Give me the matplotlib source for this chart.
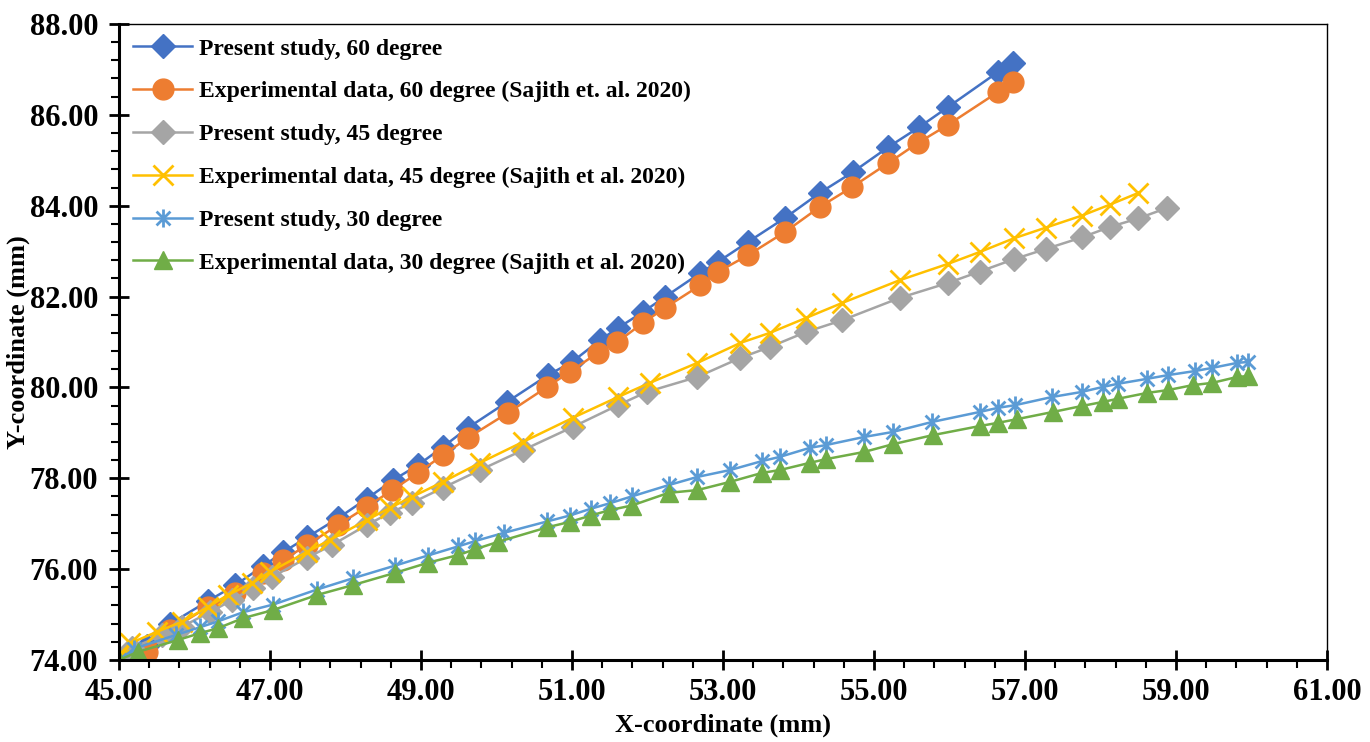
import numpy as np
import matplotlib
matplotlib.use("Agg")
import matplotlib.pyplot as plt
from matplotlib.path import Path
from matplotlib.ticker import FixedLocator, FormatStrFormatter

plt.rcParams['font.family'] = ['Liberation Serif', 'DejaVu Serif']
plt.rcParams['font.weight'] = 'bold'

# 60 degree
x_p60 = [45.00, 45.37, 45.68, 46.18, 46.54, 46.91, 47.17, 47.49, 47.90, 48.28, 48.63,
         48.96, 49.29, 49.62, 50.14, 50.68, 51.00, 51.37, 51.61, 51.94, 52.23, 52.70,
         52.93, 53.33, 53.82, 54.28, 54.72, 55.19, 55.60, 55.98, 56.64, 56.84]
y_p60 = [74.00, 74.30, 74.80, 75.30, 75.65, 76.07, 76.37, 76.70, 77.12, 77.55, 77.96,
         78.29, 78.69, 79.11, 79.68, 80.27, 80.56, 81.04, 81.31, 81.66, 81.99, 82.52,
         82.76, 83.20, 83.73, 84.28, 84.74, 85.29, 85.73, 86.17, 86.94, 87.14]
x_e60 = [45.00, 45.37, 45.68, 46.18, 46.54, 46.91, 47.17, 47.49, 47.90, 48.28, 48.62,
         48.96, 49.29, 49.62, 50.15, 50.67, 50.97, 51.34, 51.60, 51.94, 52.23, 52.70,
         52.93, 53.33, 53.82, 54.28, 54.71, 55.19, 55.58, 55.98, 56.64, 56.84]
y_e60 = [74.00, 74.18, 74.66, 75.17, 75.47, 75.92, 76.20, 76.53, 76.97, 77.37, 77.74,
         78.12, 78.51, 78.89, 79.44, 80.01, 80.34, 80.76, 81.00, 81.42, 81.75, 82.25,
         82.54, 82.91, 83.42, 83.97, 84.41, 84.94, 85.38, 85.78, 86.50, 86.72]

# 45 degree
x_p45 = [45.00, 45.17, 45.57, 45.83, 46.21, 46.50, 46.77, 47.03, 47.49, 47.82, 48.28,
         48.59, 48.88, 49.29, 49.78, 50.35, 51.01, 51.61, 51.99, 52.66, 53.23, 53.62,
         54.10, 54.58, 55.34, 55.98, 56.40, 56.85, 57.28, 57.75, 58.12, 58.50, 58.88]
y_p45 = [74.00, 74.26, 74.55, 74.73, 75.06, 75.32, 75.58, 75.83, 76.25, 76.53, 76.97,
         77.24, 77.46, 77.79, 78.18, 78.62, 79.13, 79.61, 79.90, 80.23, 80.65, 80.89,
         81.22, 81.48, 81.97, 82.30, 82.55, 82.82, 83.05, 83.30, 83.53, 83.72, 83.95]
x_e45 = [45.00, 45.15, 45.50, 45.83, 46.18, 46.44, 46.76, 47.00, 47.49, 47.79, 48.28,
         48.59, 48.88, 49.29, 49.78, 50.35, 51.01, 51.61, 52.03, 52.66, 53.23, 53.62,
         54.10, 54.58, 55.34, 55.98, 56.40, 56.85, 57.28, 57.75, 58.12, 58.50]
y_e45 = [74.00, 74.37, 74.62, 74.84, 75.17, 75.43, 75.69, 75.94, 76.38, 76.64, 77.08,
         77.35, 77.59, 77.92, 78.34, 78.80, 79.33, 79.79, 80.10, 80.54, 80.98, 81.20,
         81.53, 81.86, 82.36, 82.72, 82.98, 83.28, 83.52, 83.78, 84.02, 84.28]

# 30 degree
x_p30 = [45.00, 45.20, 45.75, 46.07, 46.31, 46.64, 47.04, 47.62, 48.10, 48.66, 49.09,
         49.49, 49.72, 50.10, 50.67, 50.97, 51.25, 51.50, 51.79, 52.28, 52.66, 53.09,
         53.52, 53.75, 54.15, 54.36, 54.87, 55.25, 55.77, 56.40, 56.64, 56.87, 57.36,
         57.75, 58.03, 58.23, 58.62, 58.89, 59.25, 59.48, 59.81, 59.95]
y_p30 = [74.00, 74.25, 74.55, 74.72, 74.85, 75.05, 75.22, 75.55, 75.80, 76.08, 76.30,
         76.50, 76.62, 76.80, 77.05, 77.18, 77.33, 77.45, 77.60, 77.85, 78.03, 78.18,
         78.38, 78.47, 78.67, 78.73, 78.91, 79.02, 79.24, 79.46, 79.55, 79.61, 79.79,
         79.90, 80.01, 80.08, 80.19, 80.27, 80.36, 80.43, 80.54, 80.56]
x_e30 = [45.00, 45.25, 45.78, 46.07, 46.31, 46.64, 47.04, 47.62, 48.10, 48.66, 49.09,
         49.49, 49.72, 50.02, 50.67, 50.97, 51.25, 51.50, 51.79, 52.28, 52.66, 53.09,
         53.52, 53.75, 54.15, 54.36, 54.87, 55.25, 55.78, 56.40, 56.64, 56.89, 57.37,
         57.75, 58.03, 58.23, 58.62, 58.89, 59.22, 59.48, 59.81, 59.95]
y_e30 = [74.00, 74.18, 74.44, 74.59, 74.70, 74.92, 75.10, 75.43, 75.65, 75.92, 76.14,
         76.31, 76.44, 76.60, 76.92, 77.04, 77.18, 77.30, 77.40, 77.68, 77.74, 77.92,
         78.12, 78.18, 78.34, 78.42, 78.58, 78.75, 78.95, 79.15, 79.22, 79.30, 79.46,
         79.59, 79.68, 79.75, 79.88, 79.94, 80.05, 80.10, 80.23, 80.25]

labels = ['Present study, 60 degree',
          'Experimental data, 60 degree (Sajith et. al. 2020)',
          'Present study, 45 degree',
          'Experimental data, 45 degree (Sajith et al. 2020)',
          'Present study, 30 degree',
          'Experimental data, 30 degree (Sajith et al. 2020)']

x_major = np.arange(45, 61.01, 2)
x_minor = np.arange(45, 61.01, 0.4)
y_major = np.arange(74, 88.01, 2)
y_minor = np.arange(74, 88.01, 0.4)

# asterisk marker like excel's "star" (x with vertical bar)
star = Path([(-1, -1), (1, 1), (-1, 1), (1, -1), (0, -1.3), (0, 1.3)],
            [Path.MOVETO, Path.LINETO, Path.MOVETO, Path.LINETO, Path.MOVETO, Path.LINETO])

fig = plt.figure(figsize=(13.7, 7.42), dpi=100)
ax = fig.add_axes([0.0869, 0.1105, 0.8817, 0.8572])

ax.plot(x_p60, y_p60, color='#4472C4', lw=1.8, marker='D', ms=12, label=labels[0])
ax.plot(x_e60, y_e60, color='#ED7D31', lw=1.8, marker='o', ms=15, label=labels[1])
ax.plot(x_p45, y_p45, color='#A5A5A5', lw=1.8, marker='D', ms=12, label=labels[2])
ax.plot(x_e45, y_e45, color='#FFC000', lw=1.8, marker='x', ms=14, mew=2, label=labels[3])
ax.plot(x_p30, y_p30, color='#5B9BD5', lw=1.8, marker=star, ms=13, mew=2,
        mfc='none', label=labels[4])
ax.plot(x_e30, y_e30, color='#70AD47', lw=1.8, marker='^', ms=13, label=labels[5])

ax.set_xlim(45, 61)
ax.set_ylim(74, 88)
ax.xaxis.set_major_locator(FixedLocator(x_major))
ax.xaxis.set_minor_locator(FixedLocator(x_minor))
ax.yaxis.set_major_locator(FixedLocator(y_major))
ax.yaxis.set_minor_locator(FixedLocator(y_minor))
ax.xaxis.set_major_formatter(FormatStrFormatter('%.2f'))
ax.yaxis.set_major_formatter(FormatStrFormatter('%.2f'))
ax.tick_params(which='major', direction='inout', length=14, width=2, labelsize=22)
ax.tick_params(which='minor', direction='out', length=6, width=1.5)
ax.tick_params(axis='x', which='major', pad=6)
ax.tick_params(axis='y', which='major', pad=8)
for lab in ax.get_xticklabels() + ax.get_yticklabels():
    lab.set_fontweight('bold')

for s in ['left', 'bottom']:
    ax.spines[s].set_linewidth(2.2)
for s in ['top', 'right']:
    ax.spines[s].set_linewidth(1.0)

ax.set_xlabel('X-coordinate (mm)', fontsize=19, fontweight='bold', labelpad=5)
ax.set_ylabel('Y-coordinate (mm)', fontsize=19, fontweight='bold')
ax.yaxis.set_label_coords(-0.074, 0.5)

ax.legend(loc='upper left', bbox_to_anchor=(0.0, 1.0), frameon=False,
          handlelength=2.5, labelspacing=0.9, handletextpad=0.3,
          borderaxespad=0.2, prop={'weight': 'bold', 'size': 17})

fig.savefig('out.png', dpi=100)
